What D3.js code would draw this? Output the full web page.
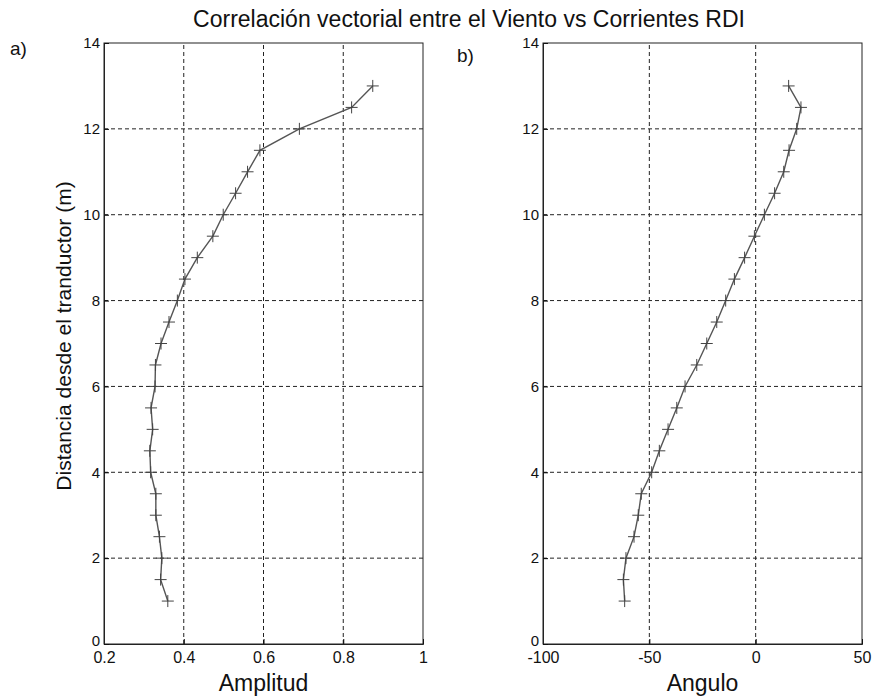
<!DOCTYPE html>
<html>
<head>
<meta charset="utf-8">
<script src="https://cdn.jsdelivr.net/npm/d3@7"></script>
<style>
  body { margin: 0; background: #fff; }
  text { font-family: 'Liberation Sans', Arial, sans-serif; fill: #111; }
</style>
</head>
<body>
<div id="chart"></div>
<script>
// depth (m) of each bin
const depths = [1, 1.5, 2, 2.5, 3, 3.5, 4, 4.5, 5, 5.5, 6, 6.5, 7, 7.5, 8, 8.5, 9, 9.5, 10, 10.5, 11, 11.5, 12, 12.5, 13]
const amplitud = [0.360, 0.342, 0.345, 0.339, 0.330, 0.330, 0.317, 0.315, 0.322, 0.318, 0.328, 0.329, 0.343, 0.363, 0.384, 0.403, 0.434, 0.473, 0.499, 0.530, 0.560, 0.591, 0.690, 0.821, 0.874]
const angulo = [-61.6, -62.2, -61.0, -57.2, -55.2, -53.8, -48.9, -45.3, -41.2, -37.1, -33.2, -27.7, -23.0, -18.3, -14.1, -10.0, -5.2, -0.6, 4.1, 8.9, 13.2, 15.7, 19.3, 21.3, 15.5]

const yTicks = [0, 2, 4, 6, 8, 10, 12, 14]
const ampTicks = [0.2, 0.4, 0.6, 0.8, 1]
const angTicks = [-100, -50, 0, 50]

const width = 875
const height = 700

const svg = d3.select('#chart')
  .append('svg')
  .attr('width', width)
  .attr('height', height)

svg.append('text')
  .attr('x', 469)
  .attr('y', 27)
  .attr('text-anchor', 'middle')
  .attr('font-size', 23)
  .text('Correlación vectorial entre el Viento vs Corrientes RDI')

svg.append('text')
  .attr('transform', 'translate(71,336) rotate(-90)')
  .attr('text-anchor', 'middle')
  .attr('font-size', 21)
  .text('Distancia desde el tranductor (m)')

// plain hyphen for negatives, like the original
const fmt = d => String(d)

function panel(opts) {
  const x = d3.scaleLinear().domain(opts.domain).range([opts.left, opts.right])
  const y = d3.scaleLinear().domain([0, 14]).range([644, 43])

  const g = svg.append('g')

  // grid
  g.selectAll('.vgrid')
    .data(opts.ticks.slice(1, -1))
    .enter()
    .append('line')
    .attr('x1', d => x(d))
    .attr('x2', d => x(d))
    .attr('y1', y(0))
    .attr('y2', y(14))
    .attr('stroke', '#222')
    .attr('stroke-dasharray', '4,3')

  g.selectAll('.hgrid')
    .data(yTicks.slice(1, -1))
    .enter()
    .append('line')
    .attr('x1', x.range()[0])
    .attr('x2', x.range()[1])
    .attr('y1', d => y(d))
    .attr('y2', d => y(d))
    .attr('stroke', '#222')
    .attr('stroke-dasharray', '4,3')

  // axes
  const xAxis = d3.axisBottom(x).tickValues(opts.ticks).tickSize(-5).tickPadding(8).tickFormat(fmt)
  g.append('g')
    .attr('transform', 'translate(0,' + y(0) + ')')
    .call(xAxis)
    .call(a => a.selectAll('text').attr('font-size', 16))

  const yAxis = d3.axisLeft(y).tickValues(yTicks).tickSize(-5).tickPadding(4)
  g.append('g')
    .attr('transform', 'translate(' + x.range()[0] + ',0)')
    .call(yAxis)
    .call(a => a.selectAll('text').attr('font-size', 15))
    .call(a => a.selectAll('.tick').filter(d => d === 0).select('text').attr('dy', '0.1em'))

  g.selectAll('.domain').attr('stroke', '#222')

  // box
  g.append('rect')
    .attr('x', x.range()[0])
    .attr('y', y(14))
    .attr('width', x.range()[1] - x.range()[0])
    .attr('height', y(0) - y(14))
    .attr('fill', 'none')
    .attr('stroke', '#222')

  const pts = depths.map((d, i) => ({ depth: d, value: opts.values[i] }))

  const line = d3.line()
    .x(d => x(d.value))
    .y(d => y(d.depth))

  g.append('path')
    .datum(pts)
    .attr('d', line)
    .attr('fill', 'none')
    .attr('stroke', '#555')
    .attr('stroke-width', 1.4)

  g.selectAll('.mark')
    .data(pts)
    .enter()
    .append('path')
    .attr('d', d => {
      const cx = x(d.value)
      const cy = y(d.depth)
      return 'M' + (cx - 6) + ',' + cy + 'H' + (cx + 6) + 'M' + cx + ',' + (cy - 6) + 'V' + (cy + 6)
    })
    .attr('stroke', '#444')
    .attr('stroke-width', 1)

  svg.append('text')
    .attr('x', (opts.left + opts.right) / 2)
    .attr('y', 691)
    .attr('text-anchor', 'middle')
    .attr('font-size', 23)
    .text(opts.label)

  svg.append('text')
    .attr('x', opts.tagX)
    .attr('y', opts.tagY)
    .attr('font-size', 19)
    .text(opts.tag)
}

panel({ domain: [0.2, 1], left: 104, right: 423, ticks: ampTicks, values: amplitud, label: 'Amplitud', tag: 'a)', tagX: 10, tagY: 55 })
panel({ domain: [-100, 50], left: 543, right: 862, ticks: angTicks, values: angulo, label: 'Angulo', tag: 'b)', tagX: 457, tagY: 62 })
</script>
</body>
</html>
